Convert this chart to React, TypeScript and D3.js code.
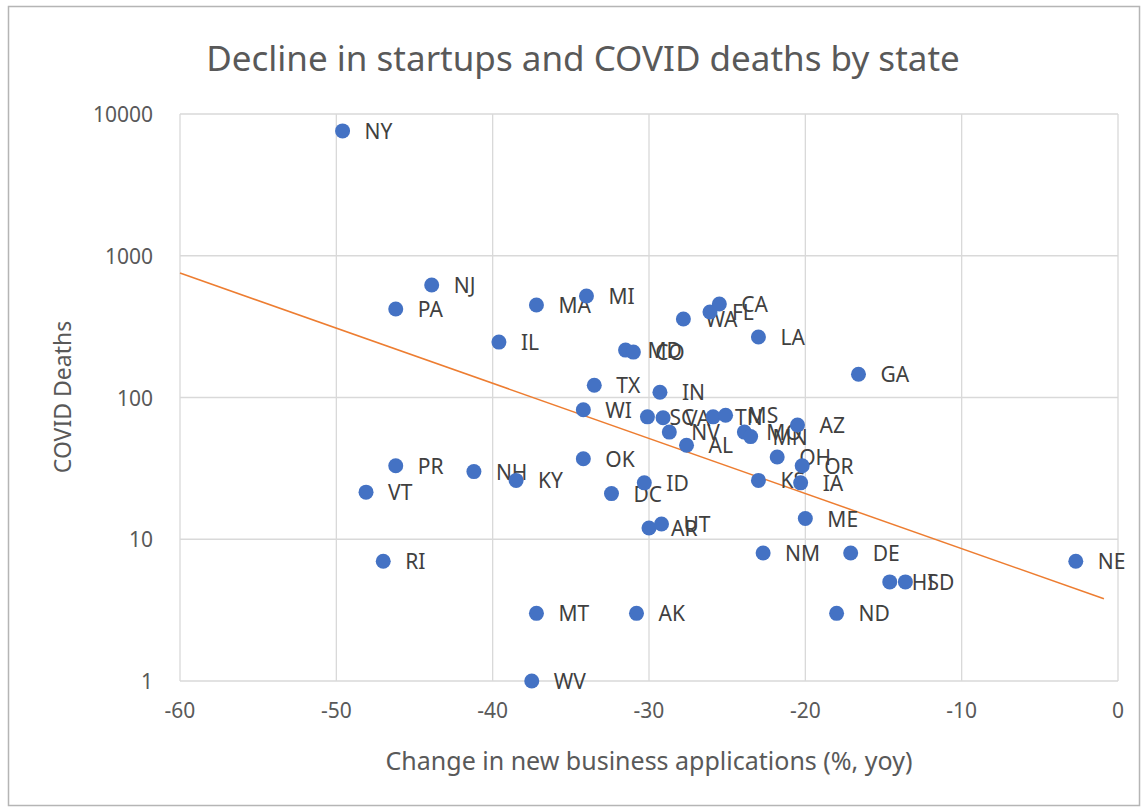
import React from "react";
import * as d3 from "d3";

const states = ["NY","NJ","PA","MA","MI","IL","WA","FL","CA","LA","MD","CO","GA","TX","IN","WI","SC","VA","NV","AL","TN","MS","MO","MN","AZ","OK","OH","OR","IA","KS","ID","DC","PR","NH","KY","VT","ME","AR","UT","NM","DE","NE","RI","HI","SD","MT","AK","ND","WV"];
const changePct = [-49.6,-43.9,-46.2,-37.2,-34.0,-39.6,-27.8,-26.1,-25.5,-23.0,-31.5,-31.0,-16.6,-33.5,-29.3,-34.2,-30.1,-29.1,-28.7,-27.6,-25.9,-25.1,-23.9,-23.5,-20.5,-34.2,-21.8,-20.2,-20.3,-23.0,-30.3,-32.4,-46.2,-41.2,-38.5,-48.1,-20.0,-30.0,-29.2,-22.7,-17.1,-2.7,-47.0,-14.6,-13.6,-37.2,-30.8,-18.0,-37.5];
const deaths = [7600,622,421,449,520,246,358,401,457,267,216,209,146,122,109,82,73,72,57,46,73,75,57,53,64,37,38,33,25,26,25,21,33,30,26,21.5,14,12,12.8,8,8,7,7,5,5,3,3,3,1];

const trendX = [-60, -0.9];
const trendY = [755, 3.8];

const xTicks = [-60, -50, -40, -30, -20, -10, 0];
const yTicks = [1, 10, 100, 1000, 10000];

const W = 1147, H = 810;
const L = 180, R = 1118, T = 114, B = 681;
const FONT = "'Noto Sans', 'Open Sans', sans-serif";

export default function App() {
  const x = d3.scaleLinear().domain([-60, 0]).range([L, R]);
  const y = d3.scaleLog().domain([1, 10000]).range([B, T]);
  const trend = d3.line<number>().x((d) => x(trendX[d])).y((d) => y(trendY[d]))([0, 1]) || "";
  return (
    <svg width={W} height={H} style={{ position: "absolute", left: 0, top: 0, background: "#fff" }} fontFamily={FONT}>
      <rect x={8.5} y={6.5} width={1131} height={799} fill="#fff" stroke="#b5b5b5" strokeWidth={1.5} />
      <text x={583} y={57} textAnchor="middle" dominantBaseline="central" fontSize={35} fill="#595959">
        Decline in startups and COVID deaths by state
      </text>
      {yTicks.map((t) => (
        <g key={"y" + t}>
          <line x1={L} x2={R} y1={y(t)} y2={y(t)} stroke="#d9d9d9" strokeWidth={1.3} />
          <text x={153} y={y(t)} textAnchor="end" dominantBaseline="central" fontSize={21} fill="#595959">{t}</text>
        </g>
      ))}
      {xTicks.map((t) => (
        <g key={"x" + t}>
          <line x1={x(t)} x2={x(t)} y1={T} y2={B} stroke="#d9d9d9" strokeWidth={1.3} />
          <text x={x(t)} y={710} textAnchor="middle" dominantBaseline="central" fontSize={21} fill="#595959">{t}</text>
        </g>
      ))}
      <text x={649} y={760} textAnchor="middle" dominantBaseline="central" fontSize={25} fill="#595959">
        Change in new business applications (%, yoy)
      </text>
      <text transform={`translate(62,397) rotate(-90)`} textAnchor="middle" dominantBaseline="central" fontSize={23} fill="#595959">
        COVID Deaths
      </text>
      <path d={trend} stroke="#ED7D31" strokeWidth={1.5} fill="none" />
      {states.map((s, i) => (
        <text key={"l" + s} x={x(changePct[i]) + 22} y={y(deaths[i])} dominantBaseline="central" fontSize={21} fill="#404040">{s}</text>
      ))}
      {states.map((s, i) => (
        <circle key={"c" + s} cx={x(changePct[i])} cy={y(deaths[i])} r={7.5} fill="#4472C4" />
      ))}
    </svg>
  );
}
